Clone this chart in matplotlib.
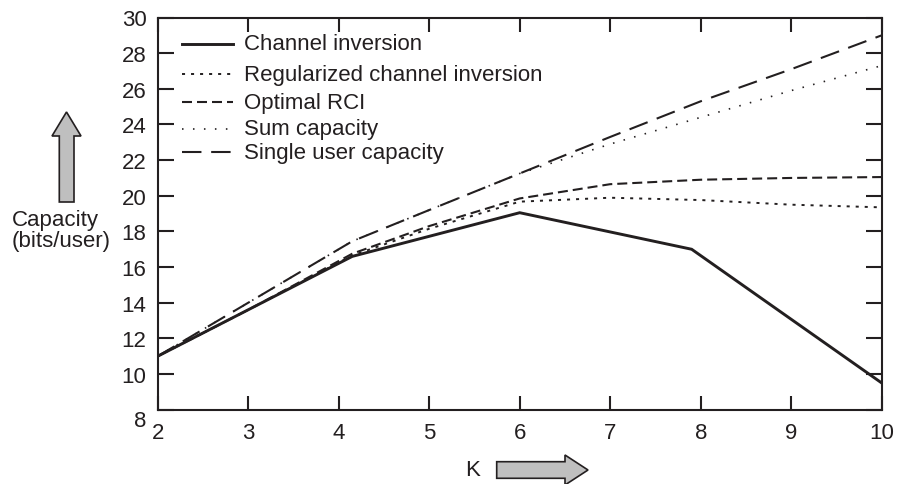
#!/usr/bin/env python3

import matplotlib
matplotlib.use("Agg")
import matplotlib.pyplot as plt
from matplotlib.patches import Polygon
from matplotlib.lines import Line2D

plt.rcParams['font.family'] = ['Liberation Sans', 'DejaVu Sans']
plt.rcParams['font.size'] = 16
plt.rcParams['lines.scale_dashes'] = False

INK = "#231f20"

# data
k_ci = [2, 4.15, 6, 7.9, 10]
chan_inv = [11.0, 16.6, 19.05, 17.0, 9.5]

k = [2, 3, 4.15, 5, 6, 7, 8, 9, 10]
reg_ci = [11.0, 13.6, 16.65, 18.15, 19.67, 19.89, 19.76, 19.5, 19.35]
opt_rci = [11.0, 13.6, 16.75, 18.3, 19.85, 20.65, 20.9, 21.0, 21.05]
sum_cap = [11.0, 14.0, 17.45, 19.2, 21.25, 22.9, 24.4, 25.9, 27.3]
single_user = [11.0, 14.0, 17.45, 19.2, 21.25, 23.3, 25.3, 27.1, 29.0]

labels = ["Channel inversion", "Regularized channel inversion", "Optimal RCI",
          "Sum capacity", "Single user capacity"]

# styles: (linewidth, dashes)
styles = [
    (2.1, None),
    (1.4, (2.2, 4.3)),
    (1.5, (7.2, 3.6)),
    (1.2, (1.1, 6.8)),
    (1.5, (14, 7)),
]

W, H = 897, 485
fig = plt.figure(figsize=(W / 100, H / 100), dpi=100)
x0, x1, y0, y1 = 157.7, 881.7, 18.5, 410.7  # axes box in pixels
ax = fig.add_axes([x0 / W, 1 - y1 / H, (x1 - x0) / W, (y1 - y0) / H])

series = [(k_ci, chan_inv), (k, reg_ci), (k, opt_rci), (k, sum_cap), (k, single_user)]
for (xs, ys), (lw, dash) in zip(series, styles):
    line, = ax.plot(xs, ys, color=INK, lw=lw, solid_joinstyle='miter')
    if dash:
        line.set_dashes(dash)

ax.set_xlim(2, 10)
ax.set_ylim(8, 30)
ax.set_xticks(range(2, 11))
ax.set_yticks(range(8, 31, 2))
ax.set_yticklabels([''] + [str(v) for v in range(10, 31, 2)])
ax.tick_params(direction='in', top=True, right=True, width=1.5, colors=INK,
               labelsize=16)
ax.tick_params(axis='y', length=11.5, pad=8)
ax.tick_params(axis='x', length=10, pad=9)
for s in ax.spines.values():
    s.set_linewidth(1.5)
    s.set_color(INK)
ax.annotate('8', xy=(0, 8), xycoords=('axes fraction', 'data'), xytext=(-8, -8),
            textcoords='offset points', ha='right', va='center', color=INK)

# hand-made legend, no box
leg_rows = [45, 75, 103.3, 130, 153.3]
for yy, lab, (lw, dash) in zip(leg_rows, labels, styles):
    ya = (y1 - yy) / (y1 - y0)
    ln = Line2D([(181.7 - x0) / (x1 - x0), (233 - x0) / (x1 - x0)], [ya, ya],
                transform=ax.transAxes, color=INK, lw=lw)
    if dash:
        ln.set_dashes(dash)
    ax.add_line(ln)
    ax.text((244 - x0) / (x1 - x0), ya, lab, transform=ax.transAxes,
            ha='left', va='center', color=INK)

# axis captions with block arrows
fig.text(12 / W, 1 - 231 / H, "Capacity\n(bits/user)", ha='left', va='center',
         color=INK, linespacing=1.0)
fig.text(473 / W, 1 - 471 / H, "K", ha='center', va='center', color=INK)


def px(pts):
    return [(a / 100, (H - b) / 100) for a, b in pts]


up = [(66.5, 113), (81, 137), (74, 137), (74, 203), (59.3, 203), (59.3, 137), (52, 137)]
right = [(588, 471), (565, 486), (565, 479.3), (496.7, 479.3), (496.7, 462.7),
         (565, 462.7), (565, 456)]
for shape in (up, right):
    fig.patches.append(Polygon(px(shape), closed=True, transform=fig.dpi_scale_trans,
                               facecolor='#bfbfbf', edgecolor=INK, lw=1.2))

fig.savefig("out.png", dpi=100)
